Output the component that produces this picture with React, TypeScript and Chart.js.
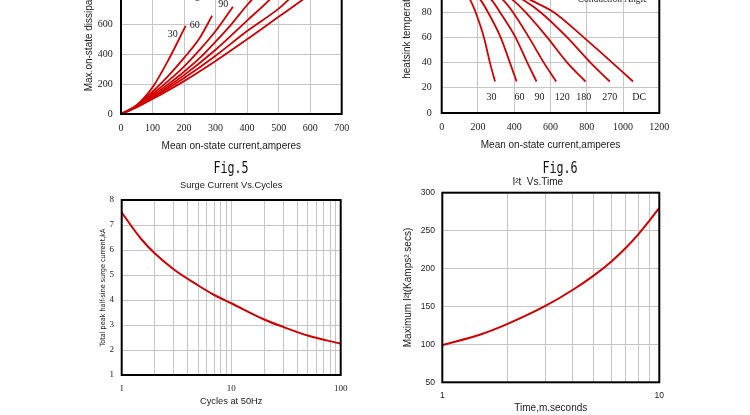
import React, { useEffect, useRef } from 'react';
import { Chart, registerables } from 'chart.js';

Chart.register(...registerables);

/* ===================== data ===================== */

// Top-left: max on-state dissipation (W) vs mean on-state current (A), per conduction angle
const dissCurrent30 = [0, 50, 100, 150, 205];
const dissPower30 = [0, 60, 178, 360, 589];
const dissCurrent60 = [0, 50, 100, 150, 200, 250, 289];
const dissPower60 = [0, 55, 149, 255, 375, 510, 658];
const dissCurrent90 = [0, 50, 100, 150, 200, 250, 300, 355];
const dissPower90 = [0, 52, 134, 222, 317, 430, 555, 718];
const dissCurrent120 = [0, 50, 100, 150, 200, 250, 300, 350, 400, 414, 440];
const dissPower120 = [0, 50, 123, 200, 283, 375, 484, 600, 729, 762, 830];
const dissCurrent180 = [0, 50, 100, 200, 300, 400, 470, 500];
const dissPower180 = [0, 48, 114, 260, 430, 625, 762, 830];
const dissCurrent270 = [0, 50, 100, 200, 300, 400, 500, 530, 570];
const dissPower270 = [0, 47, 107, 240, 390, 555, 705, 762, 840];
const dissCurrentDC = [0, 50, 100, 200, 300, 400, 500, 575, 620];
const dissPowerDC = [0, 45, 100, 220, 355, 500, 650, 762, 830];
const dissLabelText = ['30', '60', '90'];
const dissLabelCurrent = [164, 234, 324];
const dissLabelPower = [530, 595, 732];
const dissNoteCurrent = 161;
const dissNotePower = 766;
const dissXAxis = [0, 700, 100];
const dissYAxis = [0, 1200, 200];

// Top-right: heatsink temperature (°C) vs mean on-state current (A), per conduction angle
const tempLevels = [125, 89, 80, 60, 40, 25];
const tempCurrent30 = [0, 160, 187, 233, 266, 294];
const tempCurrent60 = [0, 218, 255, 325, 376, 413];
const tempCurrent90 = [0, 279, 321, 407, 472, 523];
const tempCurrent120 = [0, 343, 393, 481, 563, 631];
const tempCurrent180 = [0, 398, 462, 582, 692, 793];
const tempCurrent270 = [0, 457, 545, 692, 820, 927];
const tempCurrentDC = [0, 499, 618, 783, 940, 1055];
const tempLabelText = ['30', '60', '90', '120', '180', '270', 'DC'];
const tempLabelCurrent = [274, 429, 539, 665, 784, 927, 1089];
const tempLabelLevel = [12.5, 12.5, 12.5, 12.5, 12.5, 12.5, 12.5];
const tempNoteCurrent = 942;
const tempNoteLevel = 87.7;
const tempXAxis = [0, 1200, 200];
const tempYAxis = [0, 140, 20];

// Fig.5: surge current vs cycles
const surgeCycles = [1, 1.5, 2, 3, 5, 7, 10, 20, 30, 50, 100];
const surgeKA = [7.5, 6.45, 5.87, 5.22, 4.58, 4.2, 3.87, 3.22, 2.92, 2.58, 2.25];
const surgeGridCycles = [1, 2, 3, 4, 5, 6, 7, 8, 9, 10, 20, 30, 40, 50, 60, 70, 80, 90, 100];
const surgeLabeledCycles = [1, 10, 100];
const surgeYAxis = [1, 8, 1];

// Fig.6: I2t vs time
const i2tTime = [1, 1.5, 2, 3, 4, 5, 6, 7, 8, 9, 10];
const i2tValue = [99, 113, 127, 151, 172, 191, 209, 227, 245, 263, 280];
const i2tGridTime = [1, 2, 3, 4, 5, 6, 7, 8, 9, 10];
const i2tLabeledTime = [1, 10];
const i2tYAxis = [50, 300, 50];

/* ===================== styling ===================== */

const RED = '#d20000';
const GRID = '#c6c6c6';
const TEXT = '#1a1a1a';
const SANS = "'Liberation Sans', Arial, sans-serif";
const SERIF = "'Liberation Serif', 'Times New Roman', serif";
const NARROW = "'Liberation Sans Narrow', 'Arial Narrow', 'DejaVu Sans Condensed', 'Liberation Sans', sans-serif";

const plainNumber = (v: any) => String(v);

const plotBorder = {
  id: 'plotBorder',
  afterDraw(chart: any) {
    const { ctx, chartArea: a } = chart;
    ctx.save();
    ctx.strokeStyle = '#000';
    ctx.lineWidth = 2;
    ctx.strokeRect(a.left, a.top, a.right - a.left, a.bottom - a.top);
    ctx.restore();
  },
};

const curveLabels = {
  id: 'curveLabels',
  afterDatasetsDraw(chart: any, _args: any, opts: any) {
    const items = (opts && opts.items) || [];
    const { ctx } = chart;
    const xs = chart.scales.x;
    const ys = chart.scales.y;
    ctx.save();
    ctx.fillStyle = TEXT;
    ctx.textAlign = 'center';
    items.forEach((it: any) => {
      ctx.font = it.font;
      ctx.textBaseline = it.baseline || 'middle';
      ctx.fillText(it.text, xs.getPixelForValue(it.x), ys.getPixelForValue(it.y));
    });
    ctx.restore();
  },
};

const curve = (xs: number[], ys: number[], width: number) => ({
  data: xs.map((x, i) => ({ x, y: ys[i] })),
  borderColor: RED,
  borderWidth: width,
  pointRadius: 0,
  fill: false,
  cubicInterpolationMode: 'monotone',
});

const gridOpts = { color: GRID, lineWidth: 1, drawTicks: false };

function baseOptions(padding: any, plugins: any) {
  return {
    responsive: false,
    animation: false,
    events: [],
    layout: { padding },
    plugins: {
      legend: { display: false },
      tooltip: { enabled: false },
      ...plugins,
    },
  };
}

/* ===================== chart builders ===================== */

function buildDissipation() {
  const labelFont = `10px ${SERIF}`;
  return {
    type: 'line',
    data: {
      datasets: [
        curve(dissCurrent30, dissPower30, 1.8),
        curve(dissCurrent60, dissPower60, 1.8),
        curve(dissCurrent90, dissPower90, 1.8),
        curve(dissCurrent120, dissPower120, 1.8),
        curve(dissCurrent180, dissPower180, 1.8),
        curve(dissCurrent270, dissPower270, 1.8),
        curve(dissCurrentDC, dissPowerDC, 1.8),
      ],
    },
    options: {
      ...baseOptions({ left: 83, top: 14.6, right: 33.3, bottom: 8 }, {
        curveLabels: {
          items: [
            ...dissLabelText.map((t, i) => ({ text: t, x: dissLabelCurrent[i], y: dissLabelPower[i], font: labelFont })),
            { text: 'Conduction Angle', x: dissNoteCurrent, y: dissNotePower, font: `9.5px ${SERIF}`, baseline: 'alphabetic' },
          ],
        },
      }),
      scales: {
        x: {
          type: 'linear',
          min: dissXAxis[0],
          max: dissXAxis[1],
          afterFit: (s: any) => { s.height = 38; },
          ticks: { stepSize: dissXAxis[2], autoSkip: false, maxRotation: 0, padding: 8.7, color: TEXT, font: { family: SERIF, size: 10 }, callback: plainNumber },
          grid: gridOpts,
          border: { display: false },
          title: { display: true, text: 'Mean on-state current,amperes', color: TEXT, font: { family: SANS, size: 10 }, padding: 0 },
        },
        y: {
          type: 'linear',
          min: dissYAxis[0],
          max: dissYAxis[1],
          afterFit: (s: any) => { s.width = 38; },
          ticks: { stepSize: dissYAxis[2], autoSkip: false, padding: 8.3, color: TEXT, font: { family: SERIF, size: 10 }, callback: plainNumber },
          grid: gridOpts,
          border: { display: false },
          title: { display: true, text: 'Max.on-state dissipation,watts', color: TEXT, font: { family: SANS, size: 10 }, padding: 0 },
        },
      },
    },
    plugins: [plotBorder, curveLabels],
  };
}

function buildTemperature() {
  const labelFont = `10px ${SERIF}`;
  return {
    type: 'line',
    data: {
      datasets: [
        curve(tempCurrent30, tempLevels, 1.8),
        curve(tempCurrent60, tempLevels, 1.8),
        curve(tempCurrent90, tempLevels, 1.8),
        curve(tempCurrent120, tempLevels, 1.8),
        curve(tempCurrent180, tempLevels, 1.8),
        curve(tempCurrent270, tempLevels, 1.8),
        curve(tempCurrentDC, tempLevels, 1.8),
      ],
    },
    options: {
      ...baseOptions({ left: 26.5, top: 16.6, right: 90.7, bottom: 8.3 }, {
        curveLabels: {
          items: [
            ...tempLabelText.map((t, i) => ({ text: t, x: tempLabelCurrent[i], y: tempLabelLevel[i], font: labelFont })),
            { text: 'Conduction Angle', x: tempNoteCurrent, y: tempNoteLevel, font: `9.5px ${SERIF}`, baseline: 'alphabetic' },
          ],
        },
      }),
      scales: {
        x: {
          type: 'linear',
          min: tempXAxis[0],
          max: tempXAxis[1],
          afterFit: (s: any) => { s.height = 38.7; },
          ticks: { stepSize: tempXAxis[2], autoSkip: false, maxRotation: 0, padding: 8.4, color: TEXT, font: { family: SERIF, size: 10 }, callback: plainNumber },
          grid: gridOpts,
          border: { display: false },
          title: { display: true, text: 'Mean on-state current,amperes', color: TEXT, font: { family: SANS, size: 10 }, padding: 0 },
        },
        y: {
          type: 'linear',
          min: tempYAxis[0],
          max: tempYAxis[1],
          afterFit: (s: any) => { s.width = 40.2; },
          ticks: { stepSize: tempYAxis[2], autoSkip: false, padding: 10, color: TEXT, font: { family: SERIF, size: 10 }, callback: plainNumber },
          grid: gridOpts,
          border: { display: false },
          title: { display: true, text: 'heatsink temperature,°C', color: TEXT, font: { family: SANS, size: 10 }, padding: 0 },
        },
      },
    },
    plugins: [plotBorder, curveLabels],
  };
}

function buildSurge() {
  const yTitle = 'Total peak half-sine surge current,kA';
  let size = 7.5;
  const mctx = document.createElement('canvas').getContext('2d');
  if (mctx) {
    mctx.font = `8px ${NARROW}`;
    const w = mctx.measureText(yTitle).width;
    if (w > 0) size = Math.min(8.5, Math.max(7.2, (8 * 108) / w));
  }
  const scaleLeft = 102.8 - 0.6 * size;
  const yWidth = 121.7 - scaleLeft;
  return {
    type: 'line',
    data: { datasets: [curve(surgeCycles, surgeKA, 2)] },
    options: {
      ...baseOptions({ left: scaleLeft, top: 19.7, right: 34.3, bottom: 8.4 }, {
        title: {
          display: true,
          text: 'Surge Current Vs.Cycles',
          color: TEXT,
          fullSize: false,
          font: { family: SANS, size: 9.3, weight: 'normal' },
          padding: { top: 0, bottom: 9.14 },
        },
      }),
      scales: {
        x: {
          type: 'logarithmic',
          min: surgeGridCycles[0],
          max: surgeGridCycles[surgeGridCycles.length - 1],
          afterBuildTicks: (s: any) => { s.ticks = surgeGridCycles.map((v) => ({ value: v })); },
          afterFit: (s: any) => { s.height = 31.6; },
          ticks: {
            autoSkip: false,
            maxRotation: 0,
            padding: 8.6,
            color: TEXT,
            font: { family: SERIF, size: 9 },
            callback: (v: any) => (surgeLabeledCycles.includes(Number(v)) ? String(v) : ''),
          },
          grid: gridOpts,
          border: { display: false },
          title: { display: true, text: 'Cycles at 50Hz', color: TEXT, font: { family: SANS, size: 9.3 }, padding: 0 },
        },
        y: {
          type: 'linear',
          min: surgeYAxis[0],
          max: surgeYAxis[1],
          afterFit: (s: any) => { s.width = yWidth; },
          ticks: { stepSize: surgeYAxis[2], autoSkip: false, padding: 7.7, color: TEXT, font: { family: SERIF, size: 9 } },
          grid: gridOpts,
          border: { display: false },
          title: { display: true, text: yTitle, color: TEXT, font: { family: NARROW, size }, padding: 0 },
        },
      },
    },
    plugins: [plotBorder],
  };
}

function buildI2t() {
  return {
    type: 'line',
    data: { datasets: [curve(i2tTime, i2tValue, 2)] },
    options: {
      ...baseOptions({ left: 41.3, top: 16, right: 90.7, bottom: 0.7 }, {
        title: {
          display: true,
          text: 'I²t  Vs.Time',
          color: TEXT,
          font: { family: SANS, size: 10, weight: 'normal' },
          padding: { top: 0, bottom: 4.7 },
        },
      }),
      scales: {
        x: {
          type: 'logarithmic',
          min: i2tGridTime[0],
          max: i2tGridTime[i2tGridTime.length - 1],
          afterBuildTicks: (s: any) => { s.ticks = i2tGridTime.map((v) => ({ value: v })); },
          afterFit: (s: any) => { s.height = 32; },
          ticks: {
            autoSkip: false,
            maxRotation: 0,
            padding: 8.6,
            color: TEXT,
            font: { family: SANS, size: 8.5 },
            callback: (v: any) => (i2tLabeledTime.includes(Number(v)) ? String(v) : ''),
          },
          grid: gridOpts,
          border: { display: false },
          title: { display: true, text: 'Time,m.seconds', color: TEXT, font: { family: SANS, size: 10 }, padding: 0 },
        },
        y: {
          type: 'linear',
          min: i2tYAxis[0],
          max: i2tYAxis[1],
          afterFit: (s: any) => { s.width = 26; },
          ticks: { stepSize: i2tYAxis[2], autoSkip: false, padding: 7.3, color: TEXT, font: { family: SANS, size: 8.5 } },
          grid: gridOpts,
          border: { display: false },
          title: {
            display: true,
            text: 'Maximum I²t(Kamps².secs)',
            color: TEXT,
            font: { family: SANS, size: 10 },
            padding: { top: -14.3, bottom: 0 },
          },
        },
      },
    },
    plugins: [plotBorder],
  };
}

/* ===================== components ===================== */

function ChartCanvas({ left, top, width, height, make }: any) {
  const ref = useRef<HTMLCanvasElement>(null);
  useEffect(() => {
    if (!ref.current) return;
    const chart = new Chart(ref.current, make() as any);
    return () => chart.destroy();
  }, []);
  return (
    <canvas
      ref={ref}
      width={width}
      height={height}
      style={{ position: 'absolute', left, top, width, height, display: 'block' }}
    />
  );
}

function FigLabel({ cx, text }: any) {
  return (
    <div
      style={{
        position: 'absolute',
        left: cx,
        top: 167.7,
        transform: 'translate(-50%, -50%) scaleX(0.73)',
        fontFamily: "'DejaVu Sans Mono', 'Liberation Mono', monospace",
        fontSize: 16,
        lineHeight: '16px',
        whiteSpace: 'nowrap',
        color: '#111',
      }}
    >
      {text}
    </div>
  );
}

export default function App() {
  return (
    <div
      style={{
        position: 'absolute',
        left: 0,
        top: 0,
        width: 750,
        height: 415,
        overflow: 'hidden',
        background: '#fff',
      }}
    >
      <ChartCanvas left={0} top={-80} width={375} height={240} make={buildDissipation} />
      <ChartCanvas left={375} top={-80} width={375} height={240} make={buildTemperature} />
      <ChartCanvas left={0} top={160} width={375} height={255} make={buildSurge} />
      <ChartCanvas left={375} top={160} width={375} height={255} make={buildI2t} />
      <FigLabel cx={230.8} text="Fig.5" />
      <FigLabel cx={559.5} text="Fig.6" />
    </div>
  );
}
